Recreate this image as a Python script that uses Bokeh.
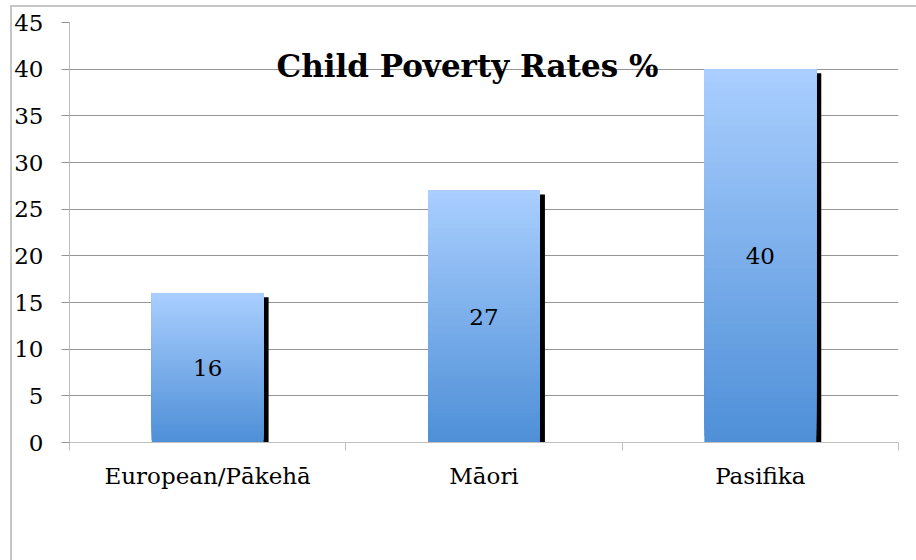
from bokeh.plotting import figure
from bokeh.models import Range1d, FixedTicker, ColumnDataSource, Label, InlineStyleSheet
from bokeh.core.properties import value
from bokeh.embed import file_html
from bokeh.resources import INLINE

categories = ["European/Pākehā", "Māori", "Pasifika"]
rates = [16, 27, 40]
y_ticks = [0, 5, 10, 15, 20, 25, 30, 35, 40, 45]
title_text = "Child Poverty Rates %"

FONT = "DejaVu Serif"
TOP_RGB = (170, 207, 255)
BOT_RGB = (78, 143, 215)
BAR_W = 0.405
N_SLICES = 60

border_css = InlineStyleSheet(css="""
:host { position: relative; }
:host::after {
  content: ""; position: absolute; left: 10px; top: 5px; width: 1000px; height: 1000px;
  border: 2px solid #c6c6c6; box-sizing: border-box; pointer-events: none; z-index: 5;
}
""")

p = figure(width=915, height=559, output_backend="svg", toolbar_location=None,
           x_range=Range1d(0, 3), y_range=Range1d(0, 45), stylesheets=[border_css])
p.min_border_left = 69
p.min_border_right = 17
p.min_border_top = 22
p.min_border_bottom = 117
p.outline_line_color = None
p.background_fill_color = "white"
p.border_fill_color = "white"

centers = [i + 0.5 for i in range(len(categories))]

# shadows
dx = 0.018
dy = 0.43
p.quad(left=[c - BAR_W / 2 + dx for c in centers], right=[c + BAR_W / 2 + dx for c in centers],
       bottom=[0] * len(rates), top=[r - dy for r in rates], fill_color="black", line_color=None)

# gradient bars: each slice covers from its bottom to the bar top, lighter ones drawn later
L, R, B, T, C = [], [], [], [], []
for c, r in zip(centers, rates):
    for k in range(N_SLICES):
        b = r * k / N_SLICES
        f = (k + 0.5) / N_SLICES
        rgb = tuple(int(round(BOT_RGB[j] + (TOP_RGB[j] - BOT_RGB[j]) * f)) for j in range(3))
        L.append(c - BAR_W / 2); R.append(c + BAR_W / 2)
        B.append(b); T.append(r)
        C.append("#%02x%02x%02x" % rgb)
p.quad(left=L, right=R, bottom=B, top=T, fill_color=C, line_color=None)

# value labels
src = ColumnDataSource(dict(x=centers, y=[r / 2 for r in rates], t=[str(r) for r in rates]))
p.text(x="x", y="y", text="t", source=src, text_align="center", text_baseline="middle",
       text_font=value(FONT), text_font_size="23px", text_color="black")

# title
p.add_layout(Label(x=1.44, y=40.3, text=title_text, text_align="center", text_baseline="alphabetic",
                   text_font=FONT, text_font_size="31px", text_font_style="bold", text_color="black"))

# axes
p.yaxis.ticker = FixedTicker(ticks=y_ticks)
p.yaxis.axis_line_color = "#c0c0c0"
p.yaxis.major_tick_line_color = "#959595"
p.yaxis.major_tick_out = 8
p.yaxis.major_tick_in = 0
p.yaxis.minor_tick_line_color = None
p.yaxis.major_label_standoff = 18
p.yaxis.major_label_text_font = FONT
p.yaxis.major_label_text_font_size = "23px"
p.yaxis.major_label_text_color = "black"

p.xaxis.ticker = FixedTicker(ticks=centers, minor_ticks=[0, 1, 2, 3])
p.xaxis.major_label_overrides = {c: cat for c, cat in zip(centers, categories)}
p.xaxis.axis_line_color = "#c0c0c0"
p.xaxis.major_tick_line_color = None
p.xaxis.major_tick_out = 0
p.xaxis.minor_tick_line_color = "#c0c0c0"
p.xaxis.minor_tick_out = 8
p.xaxis.minor_tick_in = 0
p.xaxis.major_label_standoff = 12
p.xaxis.major_label_text_font = FONT
p.xaxis.major_label_text_font_size = "23px"
p.xaxis.major_label_text_color = "black"

p.xgrid.grid_line_color = None
p.ygrid.ticker = FixedTicker(ticks=y_ticks)
p.ygrid.grid_line_color = "#959595"

open("out.html", "w").write(file_html(p, INLINE))
